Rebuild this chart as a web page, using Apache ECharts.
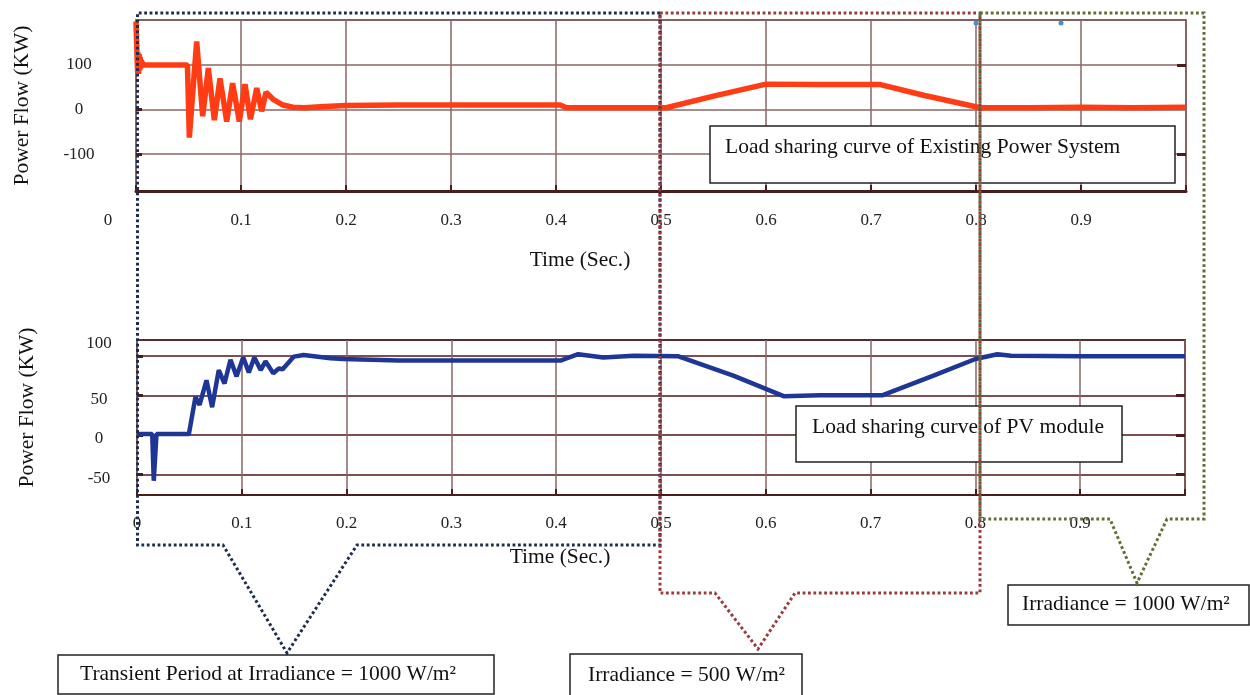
<!DOCTYPE html>
<html><head><meta charset="utf-8">
<script src="https://cdn.jsdelivr.net/npm/echarts@6/dist/echarts.min.js"></script>
<style>html,body{margin:0;padding:0;background:#fff}#c{width:1250px;height:695px}</style>
</head><body><div id="c"></div>
<script>
// ---- data ----
const topTime  = [0, 0.001, 0.0015, 0.002, 0.0025, 0.003, 0.0035, 0.004, 0.0045, 0.005, 0.006, 0.008, 0.049, 0.0508, 0.0578, 0.0635, 0.0689, 0.0746, 0.080, 0.0864, 0.092, 0.0984, 0.1038, 0.109, 0.115, 0.1197, 0.1238, 0.131, 0.140, 0.1495, 0.16, 0.18, 0.2, 0.25, 0.3, 0.35, 0.404, 0.41, 0.45, 0.505, 0.55, 0.6, 0.65, 0.709, 0.75, 0.804, 0.85, 0.9, 0.95, 1.0];
const topPower = [198, 120, 85, 128, 80, 125, 88, 118, 92, 110, 104, 100, 100, -63, 153, -15, 93, -24, 70, -27, 59, -27, 57, -22, 48, -4, 39, 22, 10, 5, 4, 7, 9, 10, 10, 10, 10, 4, 4, 4, 30, 57, 56, 56, 32, 4, 4, 5, 4, 5];

const pvTime  = [0, 0.0145, 0.016, 0.0186, 0.0495, 0.0558, 0.0597, 0.0663, 0.0717, 0.078, 0.0835, 0.0892, 0.095, 0.1013, 0.1067, 0.112, 0.118, 0.1226, 0.13, 0.1353, 0.139, 0.1497, 0.159, 0.1846, 0.197, 0.25, 0.3, 0.35, 0.404, 0.421, 0.445, 0.474, 0.516, 0.569, 0.617, 0.652, 0.711, 0.76, 0.8, 0.821, 0.834, 0.9, 1.0];
const pvPower = [1, 1, -58, 1, 1, 48, 38, 69, 35, 82, 65, 95, 74, 98, 79, 98, 82, 93, 78, 84, 83, 99, 101, 97, 96, 94, 94, 94, 94, 102, 98, 100, 99.5, 75, 49, 50, 50, 75, 96, 102, 100, 99.5, 99.5];

const xTickLabels   = [0, 0.1, 0.2, 0.3, 0.4, 0.5, 0.6, 0.7, 0.8, 0.9];
const topYTicks     = [-100, 0, 100];
const pvYTicks      = [-50, 0, 50, 100];
const xName = 'Time (Sec.)';
const yName = 'Power Flow (KW)';
const noteTop  = 'Load sharing curve of Existing Power System';
const notePV   = 'Load sharing curve of PV module';
const noteA    = 'Transient Period at Irradiance = 1000 W/m²';
const noteB    = 'Irradiance = 500 W/m²';
const noteC    = 'Irradiance = 1000 W/m²';

// ---- chart ----
const FONT = 'Liberation Serif';
const chart = echarts.init(document.getElementById('c'), null, {renderer: 'canvas'});
const gridLine = {show: true, lineStyle: {color: '#8a6666', width: 1.5}};
const topSeries = topTime.map((t, i) => [t, topPower[i]]);
const pvSeries = pvTime.map((t, i) => [t, pvPower[i]]);

function xAxisCfg(gridIndex, isTop) {
  return {
    type: 'value', gridIndex, min: 0, max: 1, interval: 0.1,
    axisLine: {show: true, onZero: false, lineStyle: {color: '#4a1d1d', width: isTop ? 3 : 2}},
    axisTick: {show: true, inside: true, length: 6, lineStyle: {color: '#4a1d1d', width: 2}},
    splitLine: gridLine,
    axisLabel: {
      customValues: xTickLabels,
      margin: isTop ? 21 : 20,
      color: '#222', fontFamily: FONT, fontSize: 17,
      formatter: v => (isTop && v === 0) ? '{z|0}' : (v === 0 ? '0' : v.toFixed(1)),
      rich: {z: {fontFamily: FONT, fontSize: 17, color: '#222', padding: [0, 56, 0, 0]}}
    },
    name: xName, nameLocation: 'middle', nameGap: isTop ? 58 : 51,
    nameTextStyle: {fontFamily: FONT, fontSize: 21.5, color: '#111', padding: [0, isTop ? 162 : 202, 0, 0]}
  };
}

const option = {
  animation: false,
  backgroundColor: '#fff',
  grid: [
    {left: 136, top: 20, width: 1050, height: 171, show: true, borderColor: '#5b2c2c', borderWidth: 1.5, containLabel: false},
    {left: 137, top: 340, width: 1048, height: 155, show: true, borderColor: '#5b2c2c', borderWidth: 2, containLabel: false}
  ],
  xAxis: [xAxisCfg(0, true), xAxisCfg(1, false)],
  yAxis: [
    {
      type: 'value', gridIndex: 0, min: -183, max: 201,
      axisLine: {show: false},
      axisTick: {show: true, inside: true, length: 6, customValues: topYTicks, lineStyle: {color: '#4a1d1d', width: 3}},
      splitLine: gridLine,
      axisLabel: {customValues: topYTicks, align: 'center', margin: 57, color: '#222', fontFamily: FONT, fontSize: 17},
      name: yName, nameLocation: 'middle', nameGap: 103,
      nameTextStyle: {fontFamily: FONT, fontSize: 21.5, color: '#111'}
    },
    {
      type: 'value', gridIndex: 1, min: -76, max: 120,
      axisLine: {show: false},
      axisTick: {show: true, inside: true, length: 6, customValues: pvYTicks, lineStyle: {color: '#4a1d1d', width: 3}},
      splitLine: {show: true, lineStyle: {color: '#7d4f4f', width: 2}},
      axisLabel: {
        customValues: pvYTicks, align: 'center', margin: 38, color: '#222', fontFamily: FONT, fontSize: 17,
        formatter: v => v === 100 ? '{h|100}' : '{n|' + v + '}',
        rich: {
          h: {fontFamily: FONT, fontSize: 17, color: '#222', padding: [0, 0, 24, 0]},
          n: {fontFamily: FONT, fontSize: 17, color: '#222', padding: [8, 0, 0, 0]}
        }
      },
      name: yName, nameLocation: 'middle', nameGap: 99,
      nameTextStyle: {fontFamily: FONT, fontSize: 21.5, color: '#111', padding: [0, 0, 0, 20]}
    },
    {
      type: 'value', gridIndex: 0, min: -183, max: 201, position: 'right',
      axisLine: {show: false}, splitLine: {show: false}, axisLabel: {show: false},
      axisTick: {show: true, inside: true, length: 9, customValues: [-100, 100], lineStyle: {color: '#4a1d1d', width: 3}}
    },
    {
      type: 'value', gridIndex: 1, min: -76, max: 120, position: 'right',
      axisLine: {show: false}, splitLine: {show: false}, axisLabel: {show: false},
      axisTick: {show: true, inside: true, length: 9, customValues: [-50, 0, 50], lineStyle: {color: '#4a1d1d', width: 3}}
    }
  ],
  series: [
    {type: 'line', xAxisIndex: 0, yAxisIndex: 0, data: topSeries, showSymbol: false, smooth: false,
     lineStyle: {color: '#ff3c14', width: 5.5}, z: 5},
    {type: 'line', xAxisIndex: 1, yAxisIndex: 1, data: pvSeries, showSymbol: false, smooth: false,
     lineStyle: {color: '#1e3796', width: 4.5}, z: 5}
  ]
};
chart.setOption(option);

// ---- annotations (boxes + dotted call-outs) ----
const dotted = (color) => ({stroke: color, lineWidth: 3, lineDash: [2.8, 2.6], fill: null});
function box(x, y, w, h, text, tx, ty) {
  return [
    {type: 'rect', shape: {x, y, width: w, height: h}, style: {fill: '#fff', stroke: '#222', lineWidth: 1.5}, z: 50},
    {type: 'text', x: tx, y: ty, style: {text, font: '21.5px "Liberation Serif"', fill: '#111', verticalAlign: 'middle', align: 'left'}, z: 51}
  ];
}
const graphics = [].concat(
  box(710, 126, 465, 57, noteTop, 725, 147),
  box(796, 406, 326, 56, notePV, 812, 427),
  box(58, 655, 436, 39, noteA, 80, 674),
  box(570, 654, 232, 46, noteB, 588, 675),
  box(1008, 585, 241, 40, noteC, 1022, 604),
  [
    {type: 'polyline', shape: {points: [[660,13],[137.5,13],[137.5,545],[223,545],[287,653],[357,545],[660,545],[660,13]]}, style: dotted('#1f2d4d'), z: 60},
    {type: 'polyline', shape: {points: [[660,13],[980,13],[980,593],[795,593],[758,649],[715,593],[660,593],[660,13]]}, style: dotted('#9a3a3a'), z: 61},
    {type: 'polyline', shape: {points: [[980,13],[1204,13],[1204,519],[1167,519],[1137,583],[1110,519],[980,519],[980,13]]}, style: dotted('#5e6f36'), z: 62},
    {type: 'circle', shape: {cx: 976, cy: 23, r: 2.5}, style: {fill: '#4a90c8'}, z: 63},
    {type: 'circle', shape: {cx: 1061, cy: 23, r: 2.5}, style: {fill: '#4a90c8'}, z: 63}
  ]
);
chart.setOption({graphic: graphics});
</script></body></html>
